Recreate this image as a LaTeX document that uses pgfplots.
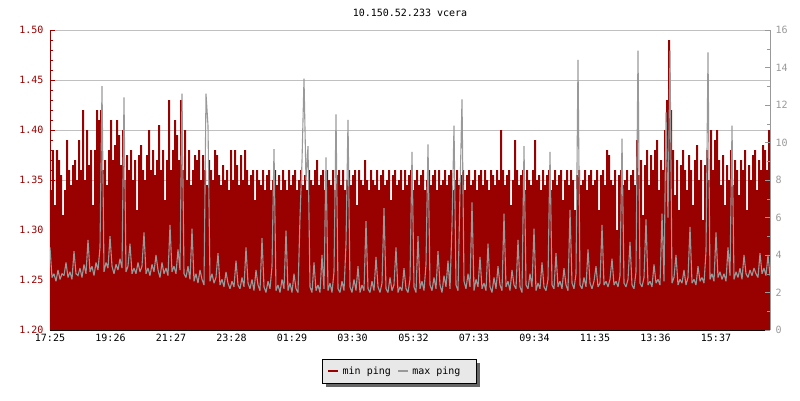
\documentclass[border=0pt]{standalone}
\usepackage{fontspec}
\setmainfont{DejaVu Sans Mono}
\usepackage{pgfplots}
\usepackage{pgfplotstable}
\pgfplotsset{compat=1.18}
\definecolor{dred}{RGB}{153,0,0}
\definecolor{gry}{RGB}{153,153,153}
\definecolor{gridc}{RGB}{192,192,192}
\definecolor{legbg}{RGB}{232,232,232}
\definecolor{shadowc}{RGB}{102,102,102}
\pgfplotstableread{
t r g
0 1.340 4.4
4 1.380 2.8
8 1.325 3.0
12 1.380 2.6
16 1.370 3.2
20 1.355 2.7
24 1.315 3.0
28 1.340 2.9
32 1.390 3.6
36 1.360 2.8
40 1.345 3.1
44 1.365 2.7
48 1.370 4.2
52 1.350 3.0
56 1.390 2.9
60 1.360 3.3
64 1.420 2.8
68 1.350 3.5
72 1.400 3.0
76 1.365 4.8
80 1.380 3.1
84 1.325 3.4
88 1.380 2.9
92 1.420 3.6
96 1.410 3.2
100 1.420 4.4
104 1.360 13.0
108 1.370 3.1
112 1.345 3.6
116 1.380 3.3
120 1.410 5.0
124 1.370 3.4
128 1.385 3.0
132 1.410 3.5
136 1.395 3.2
140 1.365 3.8
144 1.400 3.3
148 1.350 12.4
152 1.375 3.1
156 1.360 3.4
160 1.380 4.6
164 1.350 3.0
168 1.370 3.3
172 1.320 3.0
176 1.375 3.6
180 1.385 3.1
184 1.360 3.4
188 1.350 5.2
192 1.375 3.0
196 1.400 3.3
200 1.360 2.9
204 1.380 3.5
208 1.355 3.1
212 1.370 4.0
216 1.405 3.2
220 1.360 2.8
224 1.380 3.6
228 1.330 3.0
232 1.370 3.3
236 1.430 2.9
240 1.360 5.6
244 1.380 3.1
248 1.410 3.4
252 1.395 3.0
256 1.370 4.3
260 1.430 3.2
264 1.360 12.6
268 1.400 3.0
272 1.350 2.8
276 1.380 3.4
280 1.345 2.7
284 1.360 5.4
288 1.375 2.6
292 1.370 3.0
296 1.380 2.5
300 1.350 3.2
304 1.375 2.7
308 1.360 2.4
312 1.345 12.6
316 1.370 10.9
320 1.360 2.6
324 1.350 3.0
328 1.380 2.5
332 1.375 2.8
336 1.355 4.1
340 1.345 2.4
344 1.365 2.7
348 1.350 2.3
352 1.360 3.1
356 1.340 2.5
360 1.380 2.2
364 1.350 2.6
368 1.380 2.3
372 1.365 3.7
376 1.345 2.4
380 1.375 2.2
384 1.350 2.8
388 1.380 2.3
392 1.360 4.4
396 1.345 2.5
400 1.355 2.2
404 1.360 2.7
408 1.330 2.1
412 1.360 3.2
416 1.350 2.4
420 1.345 2.1
424 1.360 4.9
428 1.340 2.3
432 1.355 2.0
436 1.360 2.6
440 1.340 2.2
444 1.350 3.4
448 1.360 9.65
452 1.345 2.1
456 1.355 2.4
460 1.340 2.0
464 1.360 2.7
468 1.350 2.2
472 1.340 5.3
476 1.360 2.1
480 1.345 2.5
484 1.355 2.0
488 1.360 3.0
492 1.340 2.2
496 1.350 2.0
500 1.360 6.0
504 1.345 9.0
508 1.355 13.4
512 1.340 8.0
516 1.360 9.8
520 1.350 2.3
524 1.345 2.0
528 1.360 3.6
532 1.370 2.1
536 1.345 2.4
540 1.355 2.0
544 1.360 4.0
548 1.340 2.2
552 1.360 9.2
556 1.350 2.1
560 1.345 2.5
564 1.360 2.0
568 1.340 3.1
572 1.355 11.5
576 1.360 2.2
580 1.345 2.0
584 1.360 2.6
588 1.340 2.1
592 1.350 4.6
596 1.360 11.2
600 1.345 2.3
604 1.355 2.0
608 1.360 2.7
612 1.325 2.1
616 1.360 3.4
620 1.350 2.0
624 1.345 2.4
628 1.370 2.1
632 1.350 5.8
636 1.340 2.2
640 1.360 2.0
644 1.350 2.6
648 1.345 2.1
652 1.360 3.9
656 1.340 2.3
660 1.355 2.0
664 1.360 2.5
668 1.345 6.5
672 1.350 2.2
676 1.360 2.0
680 1.330 2.8
684 1.355 2.1
688 1.360 2.4
692 1.345 4.4
696 1.350 2.0
700 1.360 2.3
704 1.340 2.1
708 1.360 3.3
712 1.345 2.2
716 1.355 2.0
720 1.360 2.7
724 1.340 9.5
728 1.350 2.3
732 1.360 2.0
736 1.345 5.0
740 1.355 2.2
744 1.360 2.6
748 1.340 2.1
752 1.350 3.5
756 1.360 9.9
760 1.345 2.4
764 1.355 2.1
768 1.360 2.8
772 1.340 2.2
776 1.360 4.2
780 1.345 2.4
784 1.350 2.0
788 1.360 2.9
792 1.345 2.3
796 1.355 3.7
800 1.360 2.2
804 1.340 5.6
808 1.350 10.9
812 1.360 2.4
816 1.345 2.1
820 1.355 7.4
824 1.360 12.3
828 1.340 2.6
832 1.355 2.2
836 1.360 3.0
840 1.345 2.3
844 1.350 6.8
848 1.360 2.1
852 1.340 2.7
856 1.355 2.3
860 1.360 3.9
864 1.345 2.2
868 1.360 2.5
872 1.350 2.1
876 1.340 4.6
880 1.360 2.3
884 1.355 2.0
888 1.345 2.8
892 1.360 2.2
896 1.350 3.4
900 1.400 2.4
904 1.360 2.1
908 1.345 6.2
912 1.355 2.3
916 1.360 2.6
920 1.325 2.1
924 1.350 3.2
928 1.390 2.4
932 1.360 2.2
936 1.345 4.8
940 1.355 2.3
944 1.360 2.0
948 1.340 9.8
952 1.360 2.4
956 1.350 2.2
960 1.345 3.0
964 1.360 2.3
968 1.390 5.4
972 1.350 2.1
976 1.355 2.5
980 1.340 2.2
984 1.360 3.6
988 1.345 2.3
992 1.355 2.1
996 1.360 2.7
1000 1.340 9.5
1004 1.350 2.4
1008 1.360 2.2
1012 1.345 4.1
1016 1.355 2.3
1020 1.360 2.6
1024 1.330 2.2
1028 1.350 3.3
1032 1.360 2.4
1036 1.345 2.1
1040 1.360 6.4
1044 1.350 2.5
1048 1.320 2.2
1052 1.355 3.0
1056 1.360 14.4
1060 1.345 2.4
1064 1.350 2.2
1068 1.360 2.8
1072 1.340 2.3
1076 1.355 4.3
1080 1.360 2.5
1084 1.345 2.2
1088 1.350 2.6
1092 1.360 3.4
1096 1.320 2.3
1100 1.355 2.5
1104 1.360 5.6
1108 1.345 2.4
1112 1.380 2.6
1116 1.375 2.3
1120 1.350 2.7
1124 1.345 3.8
1128 1.360 2.4
1132 1.300 2.6
1136 1.355 2.3
1140 1.360 2.9
1144 1.345 10.2
1148 1.350 2.5
1152 1.360 2.3
1156 1.340 2.7
1160 1.355 4.7
1164 1.360 2.4
1168 1.345 2.2
1172 1.390 3.1
1176 1.355 14.9
1180 1.370 2.5
1184 1.315 2.3
1188 1.365 2.8
1192 1.380 5.9
1196 1.345 2.4
1200 1.375 2.6
1204 1.360 2.3
1208 1.380 3.5
1212 1.390 2.5
1216 1.340 2.7
1220 1.370 2.4
1224 1.360 6.2
1228 1.400 2.6
1232 1.430 11.6
1236 1.490 6.0
1240 1.420 14.9
1244 1.380 2.5
1248 1.335 2.8
1252 1.370 4.0
1256 1.320 2.4
1260 1.365 2.7
1264 1.380 2.5
1268 1.360 3.2
1272 1.340 2.4
1276 1.375 2.8
1280 1.360 5.5
1284 1.325 2.5
1288 1.370 2.7
1292 1.385 2.4
1296 1.350 3.4
1300 1.370 2.6
1304 1.310 2.8
1308 1.365 2.5
1312 1.380 4.2
1316 1.350 14.8
1320 1.400 2.7
1324 1.360 3.0
1328 1.390 2.6
1332 1.400 5.2
1336 1.370 2.8
1340 1.345 3.1
1344 1.375 2.7
1348 1.325 3.0
1352 1.365 2.6
1356 1.350 4.4
1360 1.380 2.9
1364 1.345 10.9
1368 1.370 2.7
1372 1.360 3.1
1376 1.335 2.8
1380 1.370 3.3
1384 1.360 2.7
1388 1.380 4.0
1392 1.320 3.0
1396 1.365 2.8
1400 1.350 3.2
1404 1.375 2.9
1408 1.380 3.3
1412 1.340 3.0
1416 1.370 2.8
1420 1.360 4.1
1424 1.385 3.0
1428 1.380 3.3
1432 1.360 2.9
1436 1.400 4.0
1440 1.400 2.9
}\datatable
\begin{document}
\begin{tikzpicture}[font=\fontsize{10}{12}\selectfont]
\useasboundingbox (0,0) rectangle (800pt,400pt);
\node at (410pt,387pt) {10.150.52.233 vcera};
% legend frame and shadow
\fill[shadowc] (325.5pt,13.5pt) rectangle (479.5pt,37.5pt);
\filldraw[fill=legbg, draw=black, line width=0.9pt] (322.5pt,16.5pt) rectangle (476.5pt,40.5pt);
\begin{axis}[
  at={(50pt,70pt)}, anchor=south west,
  scale only axis, width=720pt, height=300pt,
  xmin=0, xmax=1440, ymin=1.2, ymax=1.5,
  axis x line*=bottom, axis y line*=left,
  x axis line style={black,-}, y axis line style={dred,-},
  tick align=inside,
  major tick length=5pt, minor tick length=3pt,
  xtick={0,121,242,363,484,605,727,848,969,1090,1211,1332},
  xticklabels={17:25,19:26,21:27,23:28,01:29,03:30,05:32,07:33,09:34,11:35,13:36,15:37},
  xtick style={black},
  ytick={1.2,1.25,1.3,1.35,1.4,1.45,1.5},
  minor y tick num=4,
  ytick style={dred},
  ymajorgrids, major grid style={gridc, line width=0.6pt},
  /pgf/number format/assume math mode=true,
  yticklabel style={text=dred, /pgf/number format/.cd, fixed, fixed zerofill, precision=2},
  yticklabel shift=3pt,
  xticklabel shift=1pt,
  ticklabel style={font=\fontsize{10}{12}\selectfont},
  legend columns=2,
  legend image code/.code={\draw[#1] (0pt,0pt) -- (10pt,0pt);},
  legend style={at={(axis description cs:0.3847,-0.1367)}, anchor=west,
    draw=none, fill=none, inner sep=0pt,
    font=\fontsize{10}{12}\selectfont,
    nodes={inner sep=1pt},
    /tikz/every odd column/.append style={column sep=2pt},
    /tikz/every even column/.append style={column sep=5pt}},
]
\addplot[const plot, fill=dred, draw=none, forget plot] table[x=t, y=r] {\datatable} \closedcycle;
\addlegendimage{dred, line width=2.5pt}
\addlegendentry{min ping}
\addlegendimage{gry, line width=2.5pt}
\addlegendentry{max ping}
\end{axis}
\begin{axis}[
  at={(50pt,70pt)}, anchor=south west,
  scale only axis, width=720pt, height=300pt,
  xmin=0, xmax=1440, ymin=0, ymax=16,
  axis x line=none, axis y line*=right,
  y axis line style={gry,-},
  tick align=inside,
  major tick length=5pt, minor tick length=3pt,
  ytick={0,2,...,16}, minor ytick={1,3,...,15},
  ytick style={gry},
  /pgf/number format/assume math mode=true,
  yticklabel style={text=gry},
  yticklabel shift=2pt,
  ticklabel style={font=\fontsize{10}{12}\selectfont},
]
\addplot[gry, line width=1.1pt, sharp plot, line join=miter, miter limit=2] table[x=t, y=g] {\datatable};
\end{axis}
\end{tikzpicture}
\end{document}
